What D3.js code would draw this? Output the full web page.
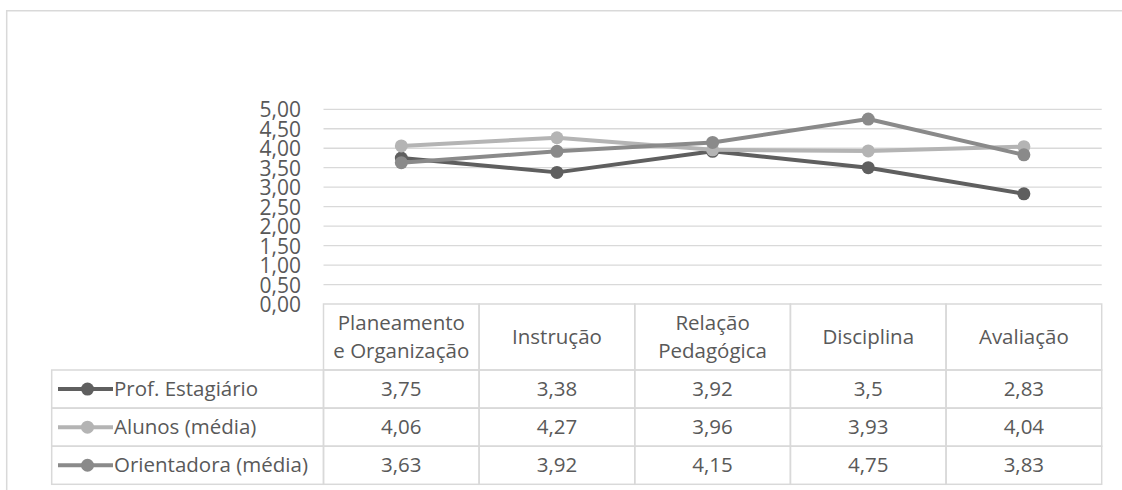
<!DOCTYPE html>
<html>
<head>
<meta charset="utf-8">
<script src="https://cdn.jsdelivr.net/npm/d3@7"></script>
<style>
  html, body { margin: 0; padding: 0; background: #fff; }
  svg { display: block; }
  text { font-family: "Open Sans", "Noto Sans", sans-serif; fill: #595959; }
</style>
</head>
<body>
<svg id="chart" width="1122" height="490"></svg>
<script>
// Categories (header cells of the data table; "\n" marks a line break)
const categories = ["Planeamento\ne Organização", "Instrução", "Relação\nPedagógica", "Disciplina", "Avaliação"];

// Series
const seriesNames = ["Prof. Estagiário", "Alunos (média)", "Orientadora (média)"];
const profEstagiario = [3.75, 3.38, 3.92, 3.5, 2.83];
const alunosMedia = [4.06, 4.27, 3.96, 3.93, 4.04];
const orientadoraMedia = [3.63, 3.92, 4.15, 4.75, 3.83];

// Value axis ticks
const yTicks = [0, 0.5, 1, 1.5, 2, 2.5, 3, 3.5, 4, 4.5, 5];

const seriesValues = [profEstagiario, alunosMedia, orientadoraMedia];
const seriesColors = ["#5f5f5f", "#b4b4b4", "#8a8a8a"];

const svg = d3.select("#chart");
const gridColor = "#d9d9d9";
const tableFont = 20.5;

// Layout
const plotLeft = 323.5, plotRight = 1101.7;
const plotTop = 109.3, plotBottom = 304;
const tableLeft = 51.7;
const headerBottom = 370;
const rowH = 38.1;

// Chart frame (left and top edges visible)
svg.append("path")
  .attr("d", `M6.7,490 V10.8 H1122`)
  .attr("fill", "none")
  .attr("stroke", gridColor)
  .attr("stroke-width", 1.5);

const x = d3.scaleBand().domain(categories).range([plotLeft, plotRight]);
const y = d3.scaleLinear().domain([0, 5]).range([plotBottom, plotTop]);
const fmtTick = v => d3.format(".2f")(v).replace(".", ",");
const fmtVal = v => String(v).replace(".", ",");

// Gridlines
svg.append("g").selectAll("line")
  .data(yTicks.filter(v => v > 0))
  .join("line")
  .attr("x1", plotLeft).attr("x2", plotRight)
  .attr("y1", d => y(d)).attr("y2", d => y(d))
  .attr("stroke", gridColor).attr("stroke-width", 1.3);

// Value axis labels
const yAxis = d3.axisLeft(y).tickValues(yTicks).tickFormat(fmtTick).tickSize(0).tickPadding(0);
const yg = svg.append("g").attr("transform", `translate(${301},0)`).call(yAxis);
yg.select(".domain").remove();
yg.selectAll("text")
  .attr("font-size", 21)
  .attr("font-family", "'Open Sans', sans-serif")
  .attr("fill", "#595959")
  .attr("dy", "0.36em");

// Lines and markers
const line = d3.line()
  .x((d, i) => x(categories[i]) + x.bandwidth() / 2)
  .y(d => y(d));

seriesValues.forEach((vals, s) => {
  const g = svg.append("g");
  g.append("path")
    .datum(vals)
    .attr("d", line)
    .attr("fill", "none")
    .attr("stroke", seriesColors[s])
    .attr("stroke-width", 4)
    .attr("stroke-linejoin", "round");
  g.selectAll("circle")
    .data(vals)
    .join("circle")
    .attr("cx", (d, i) => x(categories[i]) + x.bandwidth() / 2)
    .attr("cy", d => y(d))
    .attr("r", 6.5)
    .attr("fill", seriesColors[s]);
});

// Data table
const table = svg.append("g");
const rowsY = seriesNames.map((n, i) => headerBottom + i * rowH);

// Header cells
table.append("g").selectAll("rect")
  .data(categories)
  .join("rect")
  .attr("x", d => x(d)).attr("y", plotBottom)
  .attr("width", x.bandwidth()).attr("height", headerBottom - plotBottom)
  .attr("fill", "none").attr("stroke", gridColor).attr("stroke-width", 1.5);

categories.forEach(c => {
  const lines = c.split("\n");
  const cy = (plotBottom + headerBottom) / 2;
  const lh = 28;
  lines.forEach((ln, k) => {
    table.append("text")
      .attr("x", x(c) + x.bandwidth() / 2)
      .attr("y", cy + (k - (lines.length - 1) / 2) * lh)
      .attr("dy", "0.34em")
      .attr("text-anchor", "middle")
      .attr("font-size", tableFont)
      .text(ln);
  });
});

// Body rows
seriesNames.forEach((name, r) => {
  const ry = rowsY[r];
  // legend cell
  table.append("rect")
    .attr("x", tableLeft).attr("y", ry)
    .attr("width", plotLeft - tableLeft).attr("height", rowH)
    .attr("fill", "none").attr("stroke", gridColor).attr("stroke-width", 1.5);
  const my = ry + rowH / 2;
  table.append("line")
    .attr("x1", 58).attr("x2", 113)
    .attr("y1", my).attr("y2", my)
    .attr("stroke", seriesColors[r]).attr("stroke-width", 4);
  table.append("circle")
    .attr("cx", 87.5).attr("cy", my).attr("r", 6.5)
    .attr("fill", seriesColors[r]);
  table.append("text")
    .attr("x", 114).attr("y", my).attr("dy", "0.34em")
    .attr("font-size", tableFont)
    .text(name);
  // value cells
  seriesValues[r].forEach((v, i) => {
    const c = categories[i];
    table.append("rect")
      .attr("x", x(c)).attr("y", ry)
      .attr("width", x.bandwidth()).attr("height", rowH)
      .attr("fill", "none").attr("stroke", gridColor).attr("stroke-width", 1.5);
    table.append("text")
      .attr("x", x(c) + x.bandwidth() / 2).attr("y", my).attr("dy", "0.34em")
      .attr("text-anchor", "middle")
      .attr("font-size", tableFont)
      .text(fmtVal(v));
  });
});
</script>
</body>
</html>
